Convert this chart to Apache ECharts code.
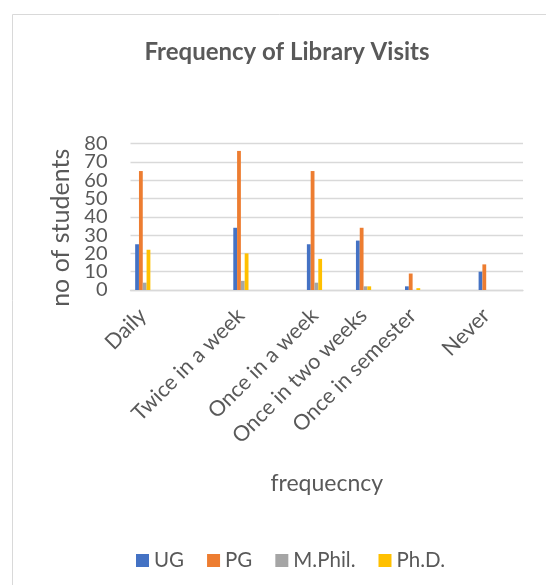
<!DOCTYPE html>
<html>
<head>
<meta charset="utf-8">
<script src="https://cdn.jsdelivr.net/npm/echarts@6/dist/echarts.min.js"></script>
<style>html,body{margin:0;padding:0;background:#fff}#c{width:546px;height:585px}</style>
</head>
<body>
<div id="c"></div>
<script>
const categories = ['Daily', '', '', '', 'Twice in a week', '', '', 'Once in a week', '', 'Once in two weeks', '', 'Once in semester', '', '', 'Never', ''];
const seriesNames = ['UG', 'PG', 'M.Phil.', 'Ph.D.'];
const ugValues    = [25, null, null, null, 34, null, null, 25, null, 27, null, 2, null, null, 10, null];
const pgValues    = [65, null, null, null, 76, null, null, 65, null, 34, null, 9, null, null, 14, null];
const mphilValues = [4, null, null, null, 5, null, null, 4, null, 2, null, 0, null, null, 0, null];
const phdValues   = [22, null, null, null, 20, null, null, 17, null, 2, null, 1, null, null, 0, null];
const yTicks = {min: 0, max: 80, interval: 10};

const colors = ['#4472C4', '#ED7D31', '#A5A5A5', '#FFC000'];
const txt = '#595959';
const font = 'Lato, "Open Sans", sans-serif';
const allValues = [ugValues, pgValues, mphilValues, phdValues];
const yLabelStyle = {margin: 23, fontFamily: font, fontSize: 20, color: txt, hideOverlap: false};

const chart = echarts.init(document.getElementById('c'), null, {renderer: 'canvas'});
chart.setOption({
  animation: false,
  color: colors,
  graphic: [{
    type: 'rect', left: 10, top: 12,
    shape: {width: 600, height: 600},
    style: {fill: 'none', stroke: '#D9D9D9', lineWidth: 1}
  }],
  title: {
    text: 'Frequency of Library Visits',
    left: 282, top: 35, textAlign: 'center',
    textStyle: {fontFamily: font, fontSize: 24, fontWeight: 'bold', color: txt}
  },
  legend: {
    data: seriesNames,
    left: 131, top: 545,
    itemWidth: 13, itemHeight: 13, itemGap: 23, icon: 'rect',
    textStyle: {fontFamily: font, fontSize: 20.5, color: txt}
  },
  grid: {left: 130.5, right: 23, top: 143.6, bottom: 295, containLabel: false},
  xAxis: {
    type: 'category',
    data: categories,
    name: 'frequecncy',
    nameLocation: 'middle',
    nameGap: 182,
    nameTextStyle: {fontFamily: font, fontSize: 23, color: txt},
    axisLine: {lineStyle: {color: '#D9D9D9', width: 1.3}},
    axisTick: {show: false},
    axisLabel: {interval: 0, rotate: 45, margin: 22, fontFamily: font, fontSize: 21.5, color: txt}
  },
  yAxis: [{
    type: 'value', position: 'left',
    min: yTicks.min, max: yTicks.max, interval: yTicks.interval,
    name: 'no of students',
    nameLocation: 'middle',
    nameGap: 53,
    nameTextStyle: {fontFamily: font, fontSize: 25, color: txt, padding: [0, 22, 0, 0]},
    axisLine: {show: false},
    axisTick: {show: false},
    splitLine: {lineStyle: {color: '#D9D9D9', width: 1.3}},
    axisLabel: Object.assign({showMinLabel: false, showMaxLabel: false}, yLabelStyle)
  }, {
    type: 'value', position: 'left', offset: 0,
    min: yTicks.min, max: yTicks.max, interval: yTicks.max - yTicks.min,
    axisLine: {show: false},
    axisTick: {show: false},
    splitLine: {show: false},
    axisLabel: Object.assign({showMinLabel: true, showMaxLabel: true}, yLabelStyle)
  }],
  series: seriesNames.map((n, i) => ({
    name: n, type: 'bar', data: allValues[i], yAxisIndex: 0,
    barWidth: '15.5%', barGap: '0%'
  }))
});
</script>
</body>
</html>
